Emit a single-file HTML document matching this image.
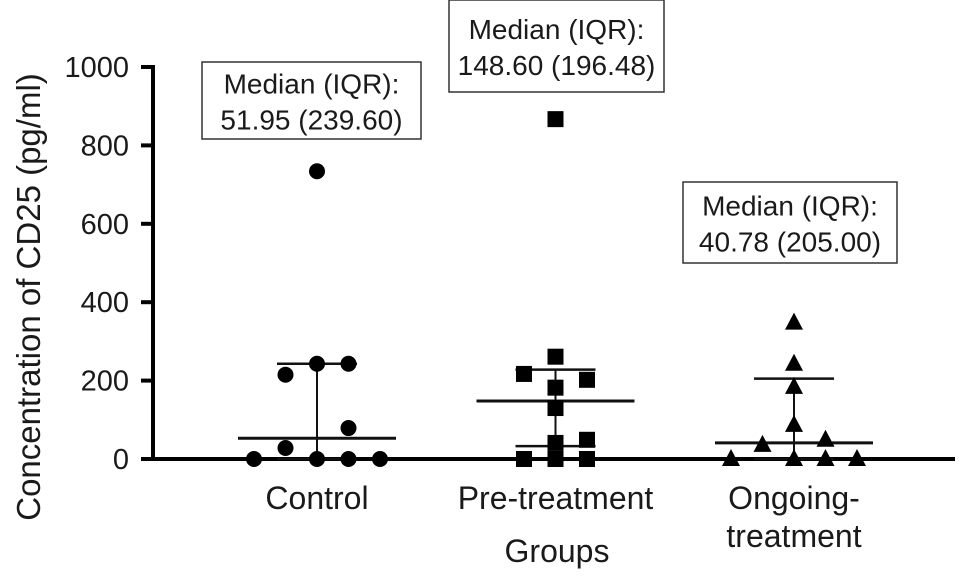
<!DOCTYPE html>
<html><head><meta charset="utf-8"><style>
body{margin:0;background:#fff}
svg text{font-family:"Liberation Sans",sans-serif;fill:#1a1a1a}
</style></head><body>
<svg id="chart" width="969" height="582" viewBox="0 0 969 582" xmlns="http://www.w3.org/2000/svg">
<g id="axes"></g><g id="marks"></g><g id="notes"></g>
</svg>
<script>
const categories = ["Control", "Pre-treatment", "Ongoing-treatment"];
const yTicks = [0, 200, 400, 600, 800, 1000];
const controlValues = [0, 28, 0, 0, 0, 215, 243, 243, 79, 734];
const controlOffsets = [-2, -1, 0, 1, 2, -1, 0, 1, 1, 0];
const preValues = [867, 261, 217, 202, 182, 130, 41, 49, 0, 0, 0];
const preOffsets = [0, 0, -1, 1, 0, 0, 0, 1, -1, 1, 0];
const ongoingValues = [348, 243, 184, 87, 36, 49, 0, 0, 0, 0];
const ongoingOffsets = [0, 0, 0, 0, -1, 1, -2, 0, 1, 2];
const medians = [53, 148, 41];
const q1 = [0, 33, 0];
const q3 = [243, 228, 205];
const noteLines1 = ["Median (IQR):", "Median (IQR):", "Median (IQR):"];
const noteLines2 = ["51.95 (239.60)", "148.60 (196.48)", "40.78 (205.00)"];

const NS="http://www.w3.org/2000/svg";
const y0=459, y1=67, xAxis=153;
const yS=v=>y0-(v/1000)*(y0-y1);
const catX=i=>317+i*238.5;
const jit=31.5;
function mk(tag,attrs,parent){const e=document.createElementNS(NS,tag);for(const k in attrs)e.setAttribute(k,attrs[k]);parent.appendChild(e);return e;}
const axes=document.getElementById('axes'),marks=document.getElementById('marks'),notes=document.getElementById('notes');

let l=mk('line',{x1:xAxis,y1:y1-2,x2:xAxis,y2:y0+2,stroke:'#000','stroke-width':4},axes);


l=mk('line',{x1:xAxis-2,y1:y0,x2:955,y2:y0,stroke:'#000','stroke-width':4},axes);


yTicks.forEach(t=>{
  const tk=mk('line',{x1:141,y1:yS(t),x2:xAxis,y2:yS(t),stroke:'#000','stroke-width':4},axes);
  
  
  const tx=mk('text',{x:129,y:yS(t)+10,'text-anchor':'end','font-size':29},axes);
  tx.textContent=t;
  
  
});
let yt=mk('text',{x:0,y:0,'text-anchor':'middle','font-size':33,transform:'translate(40,297) rotate(-90)'},axes);
yt.textContent='Concentration of CD25 (pg/ml)';


categories.forEach((c,i)=>{
  if(c==="Ongoing-treatment"){
    ["Ongoing-","treatment"].forEach((s,j)=>{
      const t=mk('text',{x:catX(i),y:509+j*38,'text-anchor':'middle','font-size':32},axes);
      t.textContent=s;
      
      
    });
  } else {
    const t=mk('text',{x:catX(i),y:509,'text-anchor':'middle','font-size':32},axes);
    t.textContent=c;
    
    
  }
});
let xt=mk('text',{x:557,y:562,'text-anchor':'middle','font-size':32},axes);
xt.textContent='Groups';



[0,1,2].forEach(i=>{
  const cx=catX(i);
  let e=mk('line',{x1:cx,y1:yS(q3[i]),x2:cx,y2:yS(q1[i]),stroke:'#111','stroke-width':2},marks);
  
  
  e=mk('line',{x1:cx-40,y1:yS(q3[i]),x2:cx+40,y2:yS(q3[i]),stroke:'#111','stroke-width':2.5},marks);
  
  
  e=mk('line',{x1:cx-40,y1:yS(q1[i]),x2:cx+40,y2:yS(q1[i]),stroke:'#111','stroke-width':2.5},marks);
  
  
  e=mk('line',{x1:cx-79,y1:yS(medians[i]),x2:cx+79,y2:yS(medians[i]),stroke:'#111','stroke-width':3},marks);
  
  
});
controlValues.forEach((v,k)=>{
  const c=mk('circle',{cx:catX(0)+controlOffsets[k]*jit,cy:yS(v),r:8,fill:'#000'},marks);
  
  
});
preValues.forEach((v,k)=>{
  const x=catX(1)+preOffsets[k]*jit;
  const r=mk('rect',{x:x-8,y:yS(v)-8,width:16,height:16,fill:'#000'},marks);
  
  
});
ongoingValues.forEach((v,k)=>{
  const x=catX(2)+ongoingOffsets[k]*jit, y=yS(v);
  const p=mk('polygon',{points:`${x},${y-10} ${x-9},${y+7} ${x+9},${y+7}`,fill:'#000'},marks);
  
  
});
const boxes=[[202,62,219,77],[449,0,215,92],[683,182,214,81]];
boxes.forEach((b,i)=>{
  const r=mk('rect',{x:b[0],y:b[1],width:b[2],height:b[3],fill:'#fff',stroke:'#333','stroke-width':1.5},notes);
  
  
  const cx=b[0]+b[2]/2, mid=b[1]+b[3]/2;
  const t1=mk('text',{x:cx,y:mid-7,'text-anchor':'middle','font-size':28},notes);
  t1.textContent=noteLines1[i];
  
  
  const t2=mk('text',{x:cx,y:mid+29,'text-anchor':'middle','font-size':28},notes);
  t2.textContent=noteLines2[i];
  
  
});
</script>
</body></html>
